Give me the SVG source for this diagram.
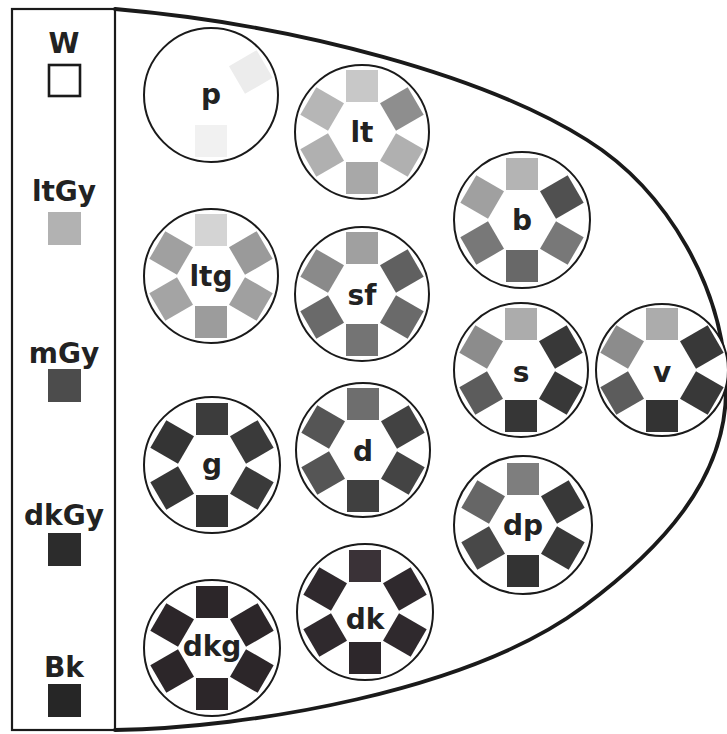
<svg xmlns="http://www.w3.org/2000/svg" width="727" height="734" viewBox="0 0 727 734">
  <style>
    .lbl { font-family: "DejaVu Sans", "Liberation Sans", sans-serif; font-weight: bold; font-size: 28px; fill: #222; text-anchor: middle; }
    .leg { font-family: "DejaVu Sans", "Liberation Sans", sans-serif; font-weight: bold; font-size: 28px; fill: #222; text-anchor: middle; }
    .ring { fill: #fff; stroke: #1a1a1a; stroke-width: 2; }
    .frame { fill: none; stroke: #1a1a1a; stroke-width: 2.2; }
    .hull { fill: none; stroke: #1a1a1a; stroke-width: 3.8; stroke-linecap: round; stroke-linejoin: round; }
  </style>
  <defs>
    <!-- one colour chip; each use places it on the hexagon and turns it with its angle -->
    <rect id="sq" x="-16" y="-16" width="32" height="32"/>
  </defs>

  <rect width="727" height="734" fill="#fff"/>

  <!-- legend column -->
  <g id="legend">
    <rect class="frame" x="12" y="9" width="103" height="721"/>
    <g id="legend-W">
      <text class="leg" x="64" y="53">W</text>
      <rect x="49" y="65" width="31" height="31" fill="#fff" stroke="#1a1a1a" stroke-width="2.6"/>
    </g>
    <g id="legend-ltGy">
      <text class="leg" x="64" y="201">ltGy</text>
      <rect x="48" y="212" width="33" height="33" fill="#b2b2b2"/>
    </g>
    <g id="legend-mGy">
      <text class="leg" x="64" y="363">mGy</text>
      <rect x="48" y="369" width="33" height="33" fill="#4c4c4c"/>
    </g>
    <g id="legend-dkGy">
      <text class="leg" x="64" y="525">dkGy</text>
      <rect x="48" y="533" width="33" height="33" fill="#2c2c2c"/>
    </g>
    <g id="legend-Bk">
      <text class="leg" x="64" y="677">Bk</text>
      <rect x="48" y="684" width="33" height="33" fill="#262626"/>
    </g>
  </g>

  <!-- outer hull, drawn as one smooth bow from the top of the legend to its foot -->
  <g id="connectors">
    <path class="hull" d="M115,9 C300,25 487,77 587,140 C667,190 726,290 726,390 C726,480 660,550 583,607 C470,691 250,728 115,730"/>
  </g>

  <!-- chips: top, upper-right, lower-right, bottom, lower-left, upper-left -->
  <g id="p" transform="translate(211,95)">
    <circle class="ring" r="67"/>
    <use href="#sq" transform="rotate(60) translate(0,-46)" fill="#ececec"/>
    <use href="#sq" transform="rotate(180) translate(0,-46)" fill="#f1f1f1"/>
    <text class="lbl" x="0" y="9">p</text>
  </g>

  <g id="lt" transform="translate(362,132)">
    <circle class="ring" r="67"/>
    <use href="#sq" transform="rotate(0) translate(0,-46)" fill="#c8c8c8"/>
    <use href="#sq" transform="rotate(60) translate(0,-46)" fill="#8e8e8e"/>
    <use href="#sq" transform="rotate(120) translate(0,-46)" fill="#b0b0b0"/>
    <use href="#sq" transform="rotate(180) translate(0,-46)" fill="#a8a8a8"/>
    <use href="#sq" transform="rotate(240) translate(0,-46)" fill="#b0b0b0"/>
    <use href="#sq" transform="rotate(300) translate(0,-46)" fill="#b6b6b6"/>
    <text class="lbl" x="0" y="10">lt</text>
  </g>

  <g id="ltg" transform="translate(211,276)">
    <circle class="ring" r="67"/>
    <use href="#sq" transform="rotate(0) translate(0,-46)" fill="#d4d4d4"/>
    <use href="#sq" transform="rotate(60) translate(0,-46)" fill="#9a9a9a"/>
    <use href="#sq" transform="rotate(120) translate(0,-46)" fill="#a0a0a0"/>
    <use href="#sq" transform="rotate(180) translate(0,-46)" fill="#9c9c9c"/>
    <use href="#sq" transform="rotate(240) translate(0,-46)" fill="#a4a4a4"/>
    <use href="#sq" transform="rotate(300) translate(0,-46)" fill="#a0a0a0"/>
    <text class="lbl" x="0" y="10">ltg</text>
  </g>

  <g id="sf" transform="translate(362,294)">
    <circle class="ring" r="67"/>
    <use href="#sq" transform="rotate(0) translate(0,-46)" fill="#a0a0a0"/>
    <use href="#sq" transform="rotate(60) translate(0,-46)" fill="#606060"/>
    <use href="#sq" transform="rotate(120) translate(0,-46)" fill="#6a6a6a"/>
    <use href="#sq" transform="rotate(180) translate(0,-46)" fill="#747474"/>
    <use href="#sq" transform="rotate(240) translate(0,-46)" fill="#6a6a6a"/>
    <use href="#sq" transform="rotate(300) translate(0,-46)" fill="#8a8a8a"/>
    <text class="lbl" x="0" y="11">sf</text>
  </g>

  <g id="b" transform="translate(522,220)">
    <circle class="ring" r="68"/>
    <use href="#sq" transform="rotate(0) translate(0,-46)" fill="#b4b4b4"/>
    <use href="#sq" transform="rotate(60) translate(0,-46)" fill="#505050"/>
    <use href="#sq" transform="rotate(120) translate(0,-46)" fill="#787878"/>
    <use href="#sq" transform="rotate(180) translate(0,-46)" fill="#686868"/>
    <use href="#sq" transform="rotate(240) translate(0,-46)" fill="#787878"/>
    <use href="#sq" transform="rotate(300) translate(0,-46)" fill="#a0a0a0"/>
    <text class="lbl" x="0" y="10">b</text>
  </g>

  <g id="s" transform="translate(521,370)">
    <circle class="ring" r="67"/>
    <use href="#sq" transform="rotate(0) translate(0,-46)" fill="#acacac"/>
    <use href="#sq" transform="rotate(60) translate(0,-46)" fill="#383838"/>
    <use href="#sq" transform="rotate(120) translate(0,-46)" fill="#383838"/>
    <use href="#sq" transform="rotate(180) translate(0,-46)" fill="#363636"/>
    <use href="#sq" transform="rotate(240) translate(0,-46)" fill="#5c5c5c"/>
    <use href="#sq" transform="rotate(300) translate(0,-46)" fill="#8c8c8c"/>
    <text class="lbl" x="0" y="12">s</text>
  </g>

  <g id="v" transform="translate(662,370)">
    <circle class="ring" r="66"/>
    <use href="#sq" transform="rotate(0) translate(0,-46)" fill="#acacac"/>
    <use href="#sq" transform="rotate(60) translate(0,-46)" fill="#383838"/>
    <use href="#sq" transform="rotate(120) translate(0,-46)" fill="#383838"/>
    <use href="#sq" transform="rotate(180) translate(0,-46)" fill="#333333"/>
    <use href="#sq" transform="rotate(240) translate(0,-46)" fill="#5c5c5c"/>
    <use href="#sq" transform="rotate(300) translate(0,-46)" fill="#8c8c8c"/>
    <text class="lbl" x="0" y="12">v</text>
  </g>

  <g id="g" transform="translate(212,465)">
    <circle class="ring" r="68"/>
    <use href="#sq" transform="rotate(0) translate(0,-46)" fill="#3c3c3c"/>
    <use href="#sq" transform="rotate(60) translate(0,-46)" fill="#3a3a3a"/>
    <use href="#sq" transform="rotate(120) translate(0,-46)" fill="#3a3a3a"/>
    <use href="#sq" transform="rotate(180) translate(0,-46)" fill="#333333"/>
    <use href="#sq" transform="rotate(240) translate(0,-46)" fill="#363636"/>
    <use href="#sq" transform="rotate(300) translate(0,-46)" fill="#343434"/>
    <text class="lbl" x="0" y="9">g</text>
  </g>

  <g id="d" transform="translate(363,450)">
    <circle class="ring" r="67"/>
    <use href="#sq" transform="rotate(0) translate(0,-46)" fill="#6e6e6e"/>
    <use href="#sq" transform="rotate(60) translate(0,-46)" fill="#424242"/>
    <use href="#sq" transform="rotate(120) translate(0,-46)" fill="#444444"/>
    <use href="#sq" transform="rotate(180) translate(0,-46)" fill="#404040"/>
    <use href="#sq" transform="rotate(240) translate(0,-46)" fill="#555555"/>
    <use href="#sq" transform="rotate(300) translate(0,-46)" fill="#555555"/>
    <text class="lbl" x="0" y="11">d</text>
  </g>

  <g id="dp" transform="translate(523,525)">
    <circle class="ring" r="69"/>
    <use href="#sq" transform="rotate(0) translate(0,-46)" fill="#7e7e7e"/>
    <use href="#sq" transform="rotate(60) translate(0,-46)" fill="#383838"/>
    <use href="#sq" transform="rotate(120) translate(0,-46)" fill="#383838"/>
    <use href="#sq" transform="rotate(180) translate(0,-46)" fill="#333333"/>
    <use href="#sq" transform="rotate(240) translate(0,-46)" fill="#484848"/>
    <use href="#sq" transform="rotate(300) translate(0,-46)" fill="#666666"/>
    <text class="lbl" x="0" y="10">dp</text>
  </g>

  <g id="dkg" transform="translate(212,648)">
    <circle class="ring" r="68"/>
    <use href="#sq" transform="rotate(0) translate(0,-46)" fill="#2c2629"/>
    <use href="#sq" transform="rotate(60) translate(0,-46)" fill="#2c2629"/>
    <use href="#sq" transform="rotate(120) translate(0,-46)" fill="#2c2629"/>
    <use href="#sq" transform="rotate(180) translate(0,-46)" fill="#2c2629"/>
    <use href="#sq" transform="rotate(240) translate(0,-46)" fill="#2c2629"/>
    <use href="#sq" transform="rotate(300) translate(0,-46)" fill="#2c2629"/>
    <text class="lbl" x="0" y="8">dkg</text>
  </g>

  <g id="dk" transform="translate(365,612)">
    <circle class="ring" r="68"/>
    <use href="#sq" transform="rotate(0) translate(0,-46)" fill="#3a3237"/>
    <use href="#sq" transform="rotate(60) translate(0,-46)" fill="#2f292d"/>
    <use href="#sq" transform="rotate(120) translate(0,-46)" fill="#2f292d"/>
    <use href="#sq" transform="rotate(180) translate(0,-46)" fill="#2d272b"/>
    <use href="#sq" transform="rotate(240) translate(0,-46)" fill="#2f292d"/>
    <use href="#sq" transform="rotate(300) translate(0,-46)" fill="#2f292d"/>
    <text class="lbl" x="0" y="17">dk</text>
  </g>
</svg>
